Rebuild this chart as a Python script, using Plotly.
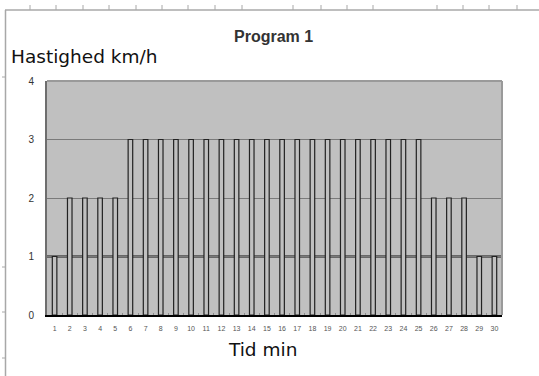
import plotly.graph_objects as go

# Treadmill program: speed per minute
minutes = [str(m) for m in range(1, 31)]
speed_kmh = [1, 2, 2, 2, 2,
             3, 3, 3, 3, 3, 3, 3, 3, 3, 3,
             3, 3, 3, 3, 3, 3, 3, 3, 3, 3,
             2, 2, 2, 1, 1]
y_ticks = [0, 1, 2, 3, 4]

title_text = "Program 1"
y_title = "Hastighed km/h"
x_title = "Tid min"

W, H = 539, 376
L, R, T, B = 47, 37, 81, 61
PW, PH = W - L - R, H - T - B


def px_x(px):
    return (px - L) / PW


def px_y(py):
    return (H - B - py) / PH


fig = go.Figure()
fig.add_trace(go.Bar(
    x=minutes,
    y=speed_kmh,
    width=0.3,
    marker=dict(color="#c0c0c0", line=dict(color="#222222", width=1.2)),
    hoverinfo="x+y",
))

shapes = []
# darker gridline at 1
shapes.append(dict(type="line", xref="paper", yref="y", x0=0, x1=1, y0=1, y1=1,
                   line=dict(color="#111111", width=2), layer="below"))
# plot frame: top and right edges
shapes.append(dict(type="line", xref="paper", yref="paper", x0=0, x1=1, y0=1, y1=1,
                   line=dict(color="#9a9a9a", width=2)))
shapes.append(dict(type="line", xref="paper", yref="paper", x0=1, x1=1, y0=0, y1=1,
                   line=dict(color="#9a9a9a", width=2)))

# outer sheet frame with ruler ticks
frame_col = "#a8a8a8"
shapes.append(dict(type="line", xref="paper", yref="paper",
                   x0=px_x(5), x1=px_x(W), y0=px_y(10), y1=px_y(10),
                   line=dict(color=frame_col, width=1.5)))
shapes.append(dict(type="line", xref="paper", yref="paper",
                   x0=px_x(5.5), x1=px_x(5.5), y0=px_y(10), y1=px_y(H),
                   line=dict(color=frame_col, width=1.5)))
for tx in [30, 56, 83, 109, 136, 162, 188, 215, 242, 293, 321, 347, 373, 437, 463, 489, 517]:
    shapes.append(dict(type="line", xref="paper", yref="paper",
                       x0=px_x(tx), x1=px_x(tx), y0=px_y(5), y1=px_y(10),
                       line=dict(color=frame_col, width=1)))
for ty in [77, 267, 312, 358]:
    shapes.append(dict(type="line", xref="paper", yref="paper",
                       x0=px_x(2), x1=px_x(5.5), y0=px_y(ty), y1=px_y(ty),
                       line=dict(color=frame_col, width=1)))

annotations = [
    dict(text="<b>" + title_text + "</b>", xref="paper", yref="paper",
         x=px_x(273), y=px_y(36),
         xanchor="center", yanchor="middle", showarrow=False,
         font=dict(family="Liberation Sans, Arial", size=16, color="#333333")),
    dict(text=y_title, xref="paper", yref="paper", x=px_x(9), y=px_y(57),
         xanchor="left", yanchor="middle", showarrow=False,
         font=dict(family="DejaVu Sans", size=18.5, color="#111111")),
    dict(text=x_title, xref="paper", yref="paper", x=px_x(262), y=px_y(349),
         xanchor="center", yanchor="middle", showarrow=False,
         font=dict(family="DejaVu Sans", size=18.5, color="#111111")),
]

fig.update_layout(
    width=W, height=H,
    margin=dict(l=L, r=R, t=T, b=B, pad=0),
    paper_bgcolor="white",
    plot_bgcolor="#c0c0c0",
    showlegend=False,
    shapes=shapes,
    annotations=annotations,
    xaxis=dict(
        type="category",
        tickmode="array", tickvals=minutes, ticktext=minutes,
        tickangle=0,
        showgrid=False, zeroline=False,
        showline=True, linecolor="#000000", linewidth=2,
        ticks="inside", tickson="boundaries", ticklen=2, tickcolor="#8a8a8a",
        ticklabelstandoff=6,
        tickfont=dict(family="Liberation Sans, Arial", size=7, color="#555555"),
        fixedrange=True,
    ),
    yaxis=dict(
        range=[0, 4],
        tickmode="array", tickvals=y_ticks,
        showgrid=True, gridcolor="#7a7a7a", gridwidth=1,
        zeroline=False,
        showline=True, linecolor="#6e6e6e", linewidth=2,
        ticks="", ticklabelstandoff=9,
        tickfont=dict(family="Liberation Sans, Arial", size=10, color="#333333"),
        fixedrange=True,
    ),
)

fig.write_html("out.html")
